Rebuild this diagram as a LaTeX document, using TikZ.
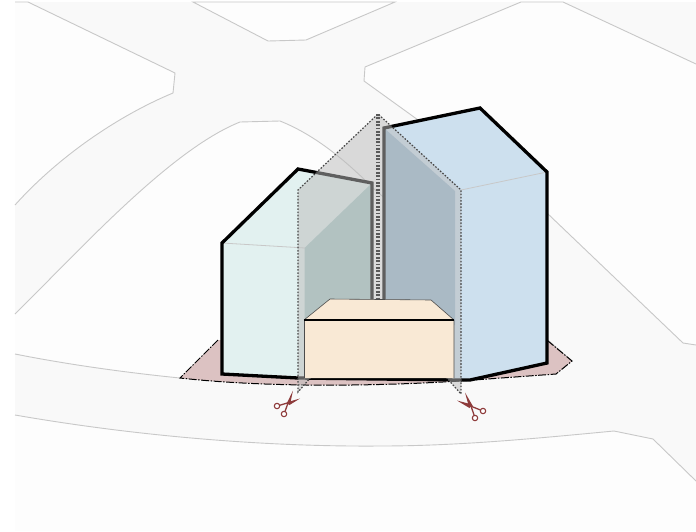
\documentclass[tikz,border=0pt]{standalone}
\usepackage{tikz}
\definecolor{roadfill}{HTML}{F9F9F9}
\definecolor{blockfill}{HTML}{FDFDFD}
\definecolor{blockline}{HTML}{C8C8C8}
\definecolor{sitefill}{HTML}{DCC2C2}
\definecolor{greenfill}{HTML}{E2F1F0}
\definecolor{greencut}{HTML}{AACBC8}
\definecolor{bluefill}{HTML}{CDE0EE}
\definecolor{bluecut}{HTML}{9AB9D0}
\definecolor{boxfill}{HTML}{F9E9D5}
\definecolor{scissorred}{HTML}{8E3B3B}
\tikzstyle{block}=[fill=blockfill]
\tikzstyle{edge}=[blockline, line width=0.9pt]
\tikzstyle{wall}=[black, line width=3.3pt, line join=miter]
\tikzstyle{thin}=[blockline, line width=0.8pt]
\tikzstyle{plane}=[fill=black!26.6, fill opacity=0.51]
\tikzstyle{cut}=[black!72, line width=1.2pt, dash pattern=on 1.6pt off 1.6pt]
\tikzstyle{blade}=[fill=scissorred]
\tikzstyle{shank}=[scissorred, line width=1.3pt]
\tikzstyle{handle}=[draw=scissorred, line width=1.1pt, fill=white]

\begin{document}
\begin{tikzpicture}[x=1pt, y=-1pt]
	\useasboundingbox (0,0) rectangle (696,531);
	\fill[white] (0,0) rectangle (696,531);
	\fill[roadfill] (15,2) rectangle (696,531);
	% blocks
	\fill[block] (15,2) -- (28,2) -- (175,73) -- (173,93) .. controls (120,115) and (60,155) .. (15,205) -- cycle;
	\draw[edge] (15,2) -- (28,2) -- (175,73) -- (173,93) .. controls (120,115) and (60,155) .. (15,205);
	\fill[block] (193,2) -- (268,41) -- (306,40) -- (395,2) -- cycle;
	\draw[edge] (193,2) -- (268,41) -- (306,40) -- (395,2) -- cycle;
	\fill[block] (521,2) -- (365,67) -- (364,81) -- (547,213) -- (683,343) -- (696,345) -- (696,64) -- (563,2) -- cycle;
	\draw[edge] (696,64) -- (563,2) -- (521,2) -- (365,67) -- (364,81) -- (547,213) -- (683,343) -- (696,345);
	\fill[block] (15,314) .. controls (80,250) and (170,150) .. (240,122) -- (280,121) .. controls (315,135) and (345,160) .. (373,188) -- (572,361) -- (556,374) -- (460,381) .. controls (380,386) and (270,388) .. (180,378) .. controls (130,373) and (70,365) .. (15,354) -- cycle;
	\draw[edge] (15,314) .. controls (80,250) and (170,150) .. (240,122) -- (280,121) .. controls (315,135) and (345,160) .. (373,188) -- (572,361);
	\draw[edge] (180,378) .. controls (130,373) and (70,365) .. (15,354);
	\fill[block] (15,415) .. controls (130,435) and (260,447) .. (380,446) .. controls (460,446) and (540,438) .. (614,431) -- (653,439) -- (696,481) -- (696,531) -- (15,531) -- cycle;
	\draw[edge] (15,415) .. controls (130,435) and (260,447) .. (380,446) .. controls (460,446) and (540,438) .. (614,431) -- (653,439) -- (696,481);
	% site
	\fill[sitefill] (218,340) -- (180,378) .. controls (270,388) and (380,386) .. (460,381) -- (556,374) -- (572,361) -- (548,341) -- cycle;
	\draw[black, line width=1pt, dash pattern=on 8pt off 1.5pt on 1.5pt off 1.5pt] (218,340) -- (180,378) .. controls (270,388) and (380,386) .. (460,381) -- (556,374) -- (572,361) -- (548,341);
	% green volume
	\fill[greenfill] (222,243) -- (298,169) -- (372,183) -- (372,378) -- (222,374) -- cycle;
	\fill[greencut] (304.5,248) -- (372,183) -- (372,325) -- (304.5,325) -- cycle;
	\draw[thin] (222,243) -- (305,248);
	\draw[wall] (372,325) -- (372,183) -- (298,169) -- (222,243) -- (222,374) -- (298,378);
	% blue volume
	\fill[bluefill] (384,128) -- (480,108) -- (547,172) -- (547,363) -- (470,380) -- (384,380) -- cycle;
	\fill[bluecut] (384,128) -- (455,191) -- (455,325) -- (384,325) -- cycle;
	\draw[thin] (461,190) -- (547,172);
	\draw[wall] (384,325) -- (384,128) -- (480,108) -- (547,172) -- (547,363) -- (470,380) -- (461,380) -- (298,378);
	% section planes
	\path[plane] (298,190) -- (378,114) -- (378,300) -- (298,392) -- cycle;
	\path[plane] (461,190) -- (378,114) -- (378,300) -- (461,394) -- cycle;
	\draw[cut] (378,300) -- (298,392) -- (298,190) -- (378,114) -- (461,190) -- (461,394) -- (378,300);
	\draw[black!65, line width=3.6pt, dash pattern=on 1.7pt off 1.7pt] (378,114) -- (378,300);
	% box
	\fill[boxfill] (304,320) -- (330,299) -- (431,300) -- (454,320) -- (454,378) -- (304,378) -- cycle;
	\draw[black!70, line width=0.6pt] (304,320) -- (330,299) -- (431,300) -- (454,320) -- (454,378);
	\draw[black!70, line width=0.6pt] (304,320) -- (304,378);
	\draw[black, line width=1.1pt] (304,320) -- (454,320);
	% scissors
	\draw[shank] (279.5,405.3) -- (289,402.5);
	\draw[shank] (285,411.5) -- (288,403);
	\fill[blade] (287,402.2) -- (300,398.5) -- (289.5,405) -- cycle;
	\fill[blade] (286.5,404) -- (293,390.5) -- (290,404.5) -- cycle;
	\draw[handle] (277,406) circle (2.7);
	\draw[handle] (284,414) circle (2.7);
	\draw[shank] (480.5,410) -- (470.5,406);
	\draw[shank] (474.2,415.5) -- (471,406);
	\fill[blade] (472,404.5) -- (457,400.5) -- (469.5,408) -- cycle;
	\fill[blade] (472.8,406) -- (465,392.5) -- (469,407) -- cycle;
	\draw[handle] (483,411) circle (2.7);
	\draw[handle] (475,418) circle (2.7);
\end{tikzpicture}
\end{document}
